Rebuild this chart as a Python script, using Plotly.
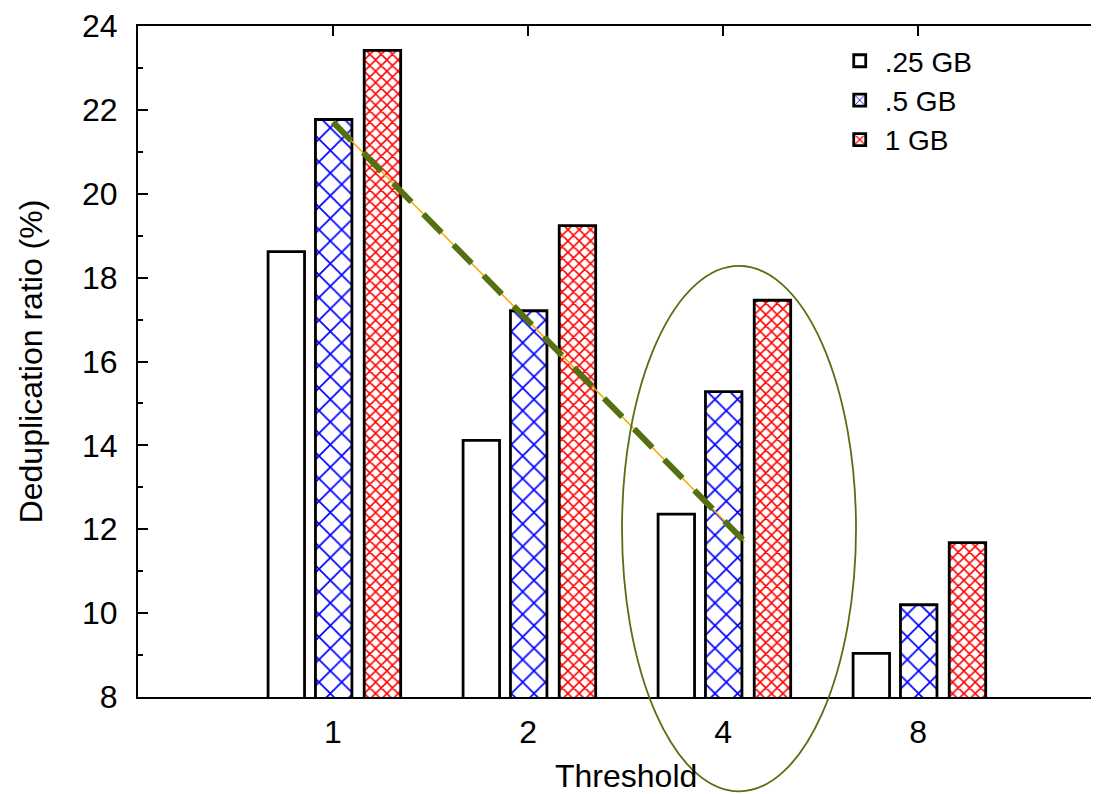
import plotly.graph_objects as go

# ---- data ----
thresholds = ["1", "2", "4", "8"]
positions = [0, 1, 2, 3]
series_names = [".25 GB", ".5 GB", "1 GB"]
dedup_025 = [18.62, 14.12, 12.36, 9.04]
dedup_05 = [21.77, 17.21, 15.28, 10.20]
dedup_1 = [23.42, 19.24, 17.46, 11.68]

# ---- annotation overlay (data units) ----
trend_x = [0.0, 2.11]
trend_y = [21.71, 11.71]
ellipse_x = [1.482, 2.682]
ellipse_y = [5.75, 18.28]

X_RANGE = [-1.0, 3.928]
Y_RANGE = [8, 24]

FONT = "Liberation Sans, Arial, Helvetica, sans-serif"
FS = 32

fig = go.Figure()

bar_width = 0.187
offsets = [-0.333, -0.09, 0.16]
patterns = [
    dict(shape=""),
    dict(shape="x", fgcolor="#0000ff", bgcolor="white", fgopacity=1, size=16, solidity=0.2),
    dict(shape="x", fgcolor="#ff0000", bgcolor="white", fgopacity=1, size=8, solidity=0.35),
]
for name, vals, off, pat in zip(series_names, [dedup_025, dedup_05, dedup_1], offsets, patterns):
    fig.add_trace(go.Bar(
        x=positions, y=vals, name=name,
        width=bar_width, offset=off,
        marker=dict(color="white", line=dict(color="black", width=2.8), pattern=pat),
    ))

# trend line: thin orange underneath, green dashed on top
fig.add_trace(go.Scatter(x=trend_x, y=trend_y, mode="lines", showlegend=False,
                         line=dict(color="#f2a900", width=1.5), hoverinfo="skip"))
fig.add_trace(go.Scatter(x=trend_x, y=trend_y, mode="lines", showlegend=False,
                         line=dict(color="#557010", width=6, dash="26px,17px"), hoverinfo="skip"))

# ellipse in paper coords (so it is not clipped by the plot area)
def px(v):
    return (v - X_RANGE[0]) / (X_RANGE[1] - X_RANGE[0])

def py(v):
    return (v - Y_RANGE[0]) / (Y_RANGE[1] - Y_RANGE[0])

fig.add_shape(type="circle", xref="paper", yref="paper",
              x0=px(ellipse_x[0]), x1=px(ellipse_x[1]),
              y0=py(ellipse_y[0]), y1=py(ellipse_y[1]),
              line=dict(color="#557010", width=1.8), layer="above")

# x title centred on the gnuplot range [-1, 4]
fig.add_annotation(text="Threshold", x=1.5, xref="x", y=0, yref="paper",
                   yanchor="middle", showarrow=False,
                   font=dict(family=FONT, size=FS, color="black"), yshift=-79)

# page body has an 8px margin: figure is shifted by 8px right/down
fig.update_layout(
    width=1091, height=786,
    margin=dict(l=130, r=0, t=12, b=97),
    paper_bgcolor="white", plot_bgcolor="white",
    barmode="overlay",
    font=dict(family=FONT, size=FS, color="black"),
    showlegend=True,
    legend=dict(x=0.725, y=0.985, xanchor="left", yanchor="top",
                bgcolor="rgba(0,0,0,0)", font=dict(family=FONT, size=28),
                itemwidth=40, tracegroupgap=0),
    xaxis=dict(range=X_RANGE, tickvals=positions, ticktext=thresholds,
               showline=True, linecolor="black", linewidth=2, mirror="ticks",
               ticks="inside", ticklen=10, tickwidth=1.5, tickcolor="black",
               showgrid=False, zeroline=False, layer="below traces",
               ticklabelstandoff=6),
    yaxis=dict(range=Y_RANGE, tickvals=list(range(8, 25, 2)),
               showline=True, linecolor="black", linewidth=2, mirror=False,
               ticks="inside", ticklen=10, tickwidth=1.5, tickcolor="black",
               minor=dict(ticks="inside", ticklen=5, tickwidth=1.5, tickcolor="black", dtick=1),
               showgrid=False, zeroline=False,
               ticklabelstandoff=12, ticklabeloverflow="allow",
               title=dict(text="Deduplication ratio (%)", standoff=30,
                          font=dict(family=FONT, size=FS))),
)

fig.write_html("out.html")
